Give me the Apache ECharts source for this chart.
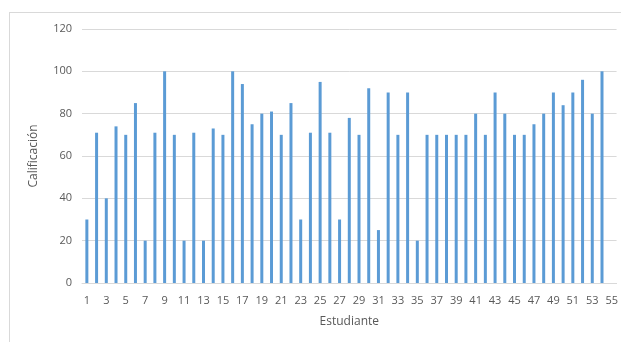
<!DOCTYPE html>
<html><head><meta charset="utf-8">
<script src="https://cdn.jsdelivr.net/npm/echarts@6/dist/echarts.min.js"></script>
<style>html,body{margin:0;padding:0;background:#fff}#c{width:621px;height:342px;position:relative}
#frame{position:absolute;left:9px;top:12px;width:640px;height:340px;border:1px solid #d9d9d9;box-sizing:border-box;pointer-events:none}</style>
</head><body><div id="c"></div><div id="frame"></div>
<script>
const categories = Array.from({length:55},(_, i)=>String(i+1));
const calificacion = [30,71,40,74,70,85,20,71,100,70,20,71,20,73,70,100,94,75,80,81,70,85,30,71,95,71,30,78,70,92,25,90,70,90,20,70,70,70,70,70,80,70,90,80,70,70,75,80,90,84,90,96,80,100,null];
const yTicks = {min:0,max:120,interval:20};
const chart = echarts.init(document.getElementById('c'),null,{renderer:'canvas'});
const font = '"Open Sans", "Liberation Sans", sans-serif';
chart.setOption({
  animation:false,
  grid:{left:82,right:4,top:29,bottom:59},
  xAxis:{type:'category',data:categories,
    name:'Estudiante',nameLocation:'middle',nameGap:33,
    nameTextStyle:{color:'#595959',fontSize:12,fontFamily:font},
    axisLine:{lineStyle:{color:'#d9d9d9'}},axisTick:{show:false},
    axisLabel:{interval:1,color:'#595959',fontSize:11,fontFamily:font,margin:12}},
  yAxis:{type:'value',min:yTicks.min,max:yTicks.max,interval:yTicks.interval,
    name:'Calificación',nameLocation:'middle',nameGap:42,
    nameTextStyle:{color:'#595959',fontSize:12,fontFamily:font},
    axisLine:{show:false},axisTick:{show:false},
    splitLine:{lineStyle:{color:'#d9d9d9'}},
    axisLabel:{color:'#595959',fontSize:11,fontFamily:font,margin:10}},
  series:[{type:'bar',data:calificacion,barWidth:3,itemStyle:{color:'#5b9bd5'}}]
});
</script></body></html>
